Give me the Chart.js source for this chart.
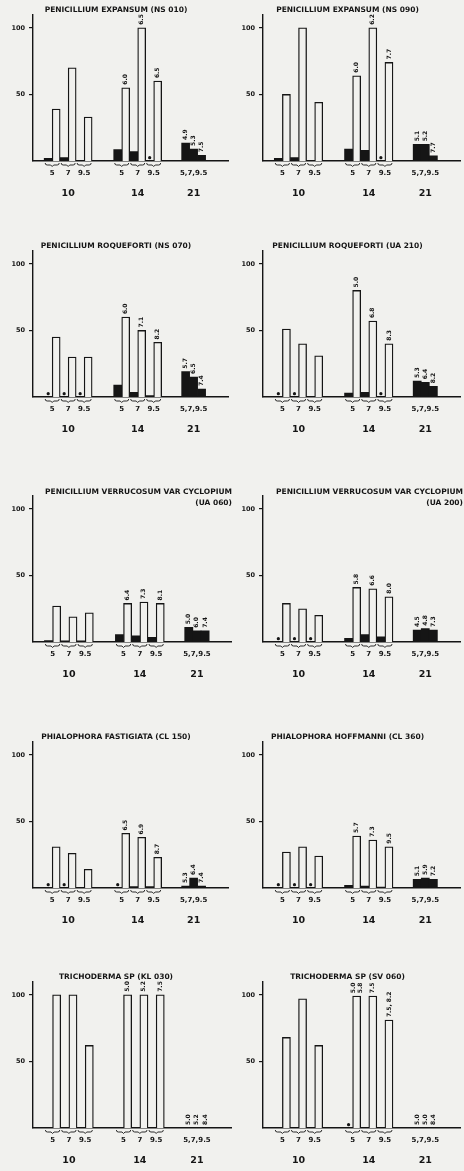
<!DOCTYPE html>
<html>
<head>
<meta charset="utf-8">
<script src="https://cdn.jsdelivr.net/npm/chart.js@4.4.1/dist/chart.umd.min.js"></script>
<style>
  body { margin: 0; background: #f1f1ee; width: 464px; height: 1171px; position: relative; overflow: hidden; }
  canvas { position: absolute; }
</style>
</head>
<body>
<script>
// ---- data (one entry per panel, reading order left->right, top->bottom) ----
const titles = [
  'PENICILLIUM EXPANSUM (NS 010)', 'PENICILLIUM EXPANSUM (NS 090)',
  'PENICILLIUM ROQUEFORTI (NS 070)', 'PENICILLIUM ROQUEFORTI (UA 210)',
  'PENICILLIUM VERRUCOSUM VAR CYCLOPIUM', 'PENICILLIUM VERRUCOSUM VAR CYCLOPIUM',
  'PHIALOPHORA FASTIGIATA (CL 150)', 'PHIALOPHORA HOFFMANNI (CL 360)',
  'TRICHODERMA SP (KL 030)', 'TRICHODERMA SP (SV 060)'
];
const titleTails = ['', '', '', '', '(UA 060)', '(UA 200)', '', '', '', ''];

const phTicks = ['5', '7', '9.5', '5', '7', '9.5', '5,7,9.5'];
const dayTicks = ['10', '14', '21'];
const yTicks = [50, 100];

// white bars, day 10 and day 14, pH 5 / 7 / 9.5
const white10 = [
  [39, 70, 33], [50, 100, 44], [45, 30, 30], [51, 40, 31], [27, 19, 22],
  [29, 25, 20], [31, 26, 14], [27, 31, 24], [100, 100, 62], [68, 97, 62]
];
const white14 = [
  [55, 100, 60], [64, 100, 74], [60, 50, 41], [80, 57, 40], [29, 30, 29],
  [41, 40, 34], [41, 38, 23], [39, 36, 31], [100, 100, 100], [99, 99, 81]
];
// black bars, day 10 / 14 / 21
const black10 = [
  [2, 2.5, 0], [2, 2.5, 0], [0, 0, 0], [0, 0, 0], [1, 0.8, 0.8],
  [0, 0, 0], [0, 0, 0], [0, 0, 0], [0, 0, 0], [0, 0, 0]
];
const black14 = [
  [8.5, 7, 0], [9, 8, 0], [9, 3.5, 1], [3, 3.5, 0], [5.5, 4.7, 3.5],
  [2.8, 5.5, 3.8], [0, 1, 1], [2, 1.5, 0.6], [0, 0, 0], [0, 0, 0]
];
const black21 = [
  [13.5, 9, 4.3], [12.5, 12.5, 3.8], [19, 15, 6], [12, 11, 8], [11, 8.4, 8.4],
  [9, 10, 9], [1.5, 7.5, 1.5], [6.5, 7.5, 6.5], [0, 0, 0], [0, 0, 0]
];
// asterisks marking the black slots
const star10 = [
  [0, 0, 0], [0, 0, 0], [1, 1, 1], [1, 1, 0], [0, 0, 0],
  [1, 1, 1], [1, 1, 0], [1, 1, 1], [0, 0, 0], [0, 0, 0]
];
const star14 = [
  [0, 0, 1], [0, 0, 1], [0, 0, 0], [0, 0, 1], [0, 0, 0],
  [0, 0, 0], [1, 0, 0], [0, 0, 0], [0, 0, 0], [1, 0, 0]
];
// final pH written above the bars
const label14 = [
  ['6.0', '6.5', '6.5'], ['6.0', '6.2', '7.7'], ['6.0', '7.1', '8.2'], ['5.0', '6.8', '8.3'],
  ['6.4', '7.3', '8.1'], ['5.8', '6.6', '8.0'], ['6.5', '6.9', '8.7'], ['5.7', '7.3', '9.5'],
  ['5.0', '5.2', '7.5'], [['5.0', '5.8'], '7.5', '7.5, 8.2']
];
const label21 = [
  ['4.9', '5.3', '7.5'], ['5.1', '5.2', '7.7'], ['5.7', '6.5', '7.4'], ['5.3', '6.4', '8.2'],
  ['5.0', '6.0', '7.4'], ['4.5', '4.8', '7.3'], ['5.3', '6.4', '7.4'], ['5.1', '5.9', '7.2'],
  ['5.0', '5.2', '8.4'], ['5.0', '5.0', '8.4']
];

// ---- layout ----
const ink = '#151515';
const paper = '#f1f1ee';
const FONT = "'DejaVu Sans', 'Liberation Sans', sans-serif";
const G10 = 1.4, G14 = 10.1, G21 = 18.6;   // slot where each day group starts
const X_MAX = 24.4, Y_MAX = 110;
const rowZero = [160, 396, 642, 887, 1127];
const colLeft = [0, 232], colYW = [33, 31], colPadR = [0, 1];
const PLOT_H = 146, X_H = 20, X2_H = 22, PAD_B = 2;
const TITLE_SIZE = 7.5;

const phPos = [G10 + 1, G10 + 3, G10 + 5, G14 + 1, G14 + 3, G14 + 5, G21 + 1.5];
const dayPos = [G10 + 3, G14 + 3, G21 + 1.5];

Chart.defaults.font.family = FONT;
Chart.defaults.color = ink;

const annot = {
  id: 'annot',
  afterDatasetsDraw(chart, args, opts) {
    const p = opts.panel;
    const ctx = chart.ctx;
    const x = chart.scales.x, y = chart.scales.y;
    const base = y.getPixelForValue(0);
    ctx.save();
    ctx.strokeStyle = ink;
    ctx.fillStyle = ink;
    ctx.lineWidth = 0.9;
    // braces under each pH pair
    [G10, G14].forEach(g => {
      for (let i = 0; i < 3; i++) {
        const l = x.getPixelForValue(g + 2 * i) + 1;
        const r = x.getPixelForValue(g + 2 * i + 2) - 1;
        const m = (l + r) / 2;
        ctx.beginPath();
        ctx.moveTo(l, base + 2);
        ctx.quadraticCurveTo(l, base + 4, l + 2, base + 4);
        ctx.lineTo(m - 1.5, base + 4);
        ctx.lineTo(m, base + 5.5);
        ctx.lineTo(m + 1.5, base + 4);
        ctx.lineTo(r - 2, base + 4);
        ctx.quadraticCurveTo(r, base + 4, r, base + 2);
        ctx.stroke();
      }
    });
    // rotated pH values on top of the bars
    ctx.font = 'bold 6px ' + FONT;
    ctx.textBaseline = 'middle';
    ctx.textAlign = 'left';
    const put = (txt, cx, top) => {
      const list = Array.isArray(txt) ? txt : [txt];
      list.forEach((t, k) => {
        const dx = (k - (list.length - 1) / 2) * 7;
        ctx.save();
        ctx.translate(cx + dx, top - 3);
        ctx.rotate(-Math.PI / 2);
        ctx.fillText(t, 0, 0);
        ctx.restore();
      });
    };
    label14[p].forEach((t, i) => put(t, x.getPixelForValue(G14 + 2 * i + 1.5), y.getPixelForValue(white14[p][i])));
    label21[p].forEach((t, i) => put(t, x.getPixelForValue(G21 + i + 0.5), y.getPixelForValue(black21[p][i])));
    ctx.restore();
  }
};

titles.forEach((title, p) => {
  const col = p % 2, row = Math.floor(p / 2);
  const tail = titleTails[p];
  const lh = tail ? 1.5 : 1;
  const lineH = TITLE_SIZE * lh;
  // two-line titles: second line hangs into the plot area, like the original
  const titlePad = tail
    ? { top: 4, bottom: (4 + lineH / 2 + 4) - (2 * lineH + 4) }
    : { top: 4, bottom: 1 };
  const titleH = (tail ? 2 : 1) * lineH + titlePad.top + titlePad.bottom;
  const zero = rowZero[row];
  const top = zero - PLOT_H - titleH;
  const height = Math.round(zero + X_H + X2_H + PAD_B - top);

  const canvas = document.createElement('canvas');
  canvas.width = 232;
  canvas.height = height;
  canvas.style.left = colLeft[col] + 'px';
  canvas.style.top = top + 'px';
  document.body.appendChild(canvas);

  const whitePts = [
    ...white10[p].map((v, i) => ({ x: G10 + 2 * i + 1.5, y: v })),
    ...white14[p].map((v, i) => ({ x: G14 + 2 * i + 1.5, y: v }))
  ];
  const blackPts = [
    ...black10[p].map((v, i) => ({ x: G10 + 2 * i + 0.5, y: v })),
    ...black14[p].map((v, i) => ({ x: G14 + 2 * i + 0.5, y: v })),
    ...black21[p].map((v, i) => ({ x: G21 + i + 0.5, y: v }))
  ];
  const starPts = [
    ...star10[p].map((f, i) => f ? { x: G10 + 2 * i + 0.5, y: 2.5 } : null),
    ...star14[p].map((f, i) => f ? { x: G14 + 2 * i + 0.5, y: 2.5 } : null)
  ].filter(Boolean);

  new Chart(canvas, {
    type: 'bar',
    data: {
      datasets: [
        {
          data: whitePts, xAxisID: 'x', yAxisID: 'y',
          backgroundColor: paper, borderColor: ink, borderWidth: 1.3,
          grouped: false, barPercentage: 1, categoryPercentage: 1
        },
        {
          data: blackPts, xAxisID: 'x', yAxisID: 'y',
          backgroundColor: ink, borderWidth: 0,
          grouped: false, barPercentage: 1, categoryPercentage: 1
        },
        {
          type: 'scatter', data: starPts, xAxisID: 'x', yAxisID: 'y',
          pointStyle: 'circle', pointRadius: 1.6, backgroundColor: ink, borderWidth: 0
        }
      ]
    },
    options: {
      responsive: false,
      animation: false,
      devicePixelRatio: 1,
      layout: { padding: { left: 0, right: colPadR[col], top: 0, bottom: PAD_B } },
      plugins: {
        legend: { display: false },
        tooltip: { enabled: false },
        title: {
          display: true,
          text: tail ? [title, tail] : title,
          align: tail ? 'end' : 'center',
          color: ink,
          font: { size: TITLE_SIZE, weight: 'bold', lineHeight: lh },
          padding: titlePad
        },
        annot: { panel: p }
      },
      scales: {
        x: {
          type: 'linear', position: 'bottom', weight: 0,
          min: 0, max: X_MAX, offset: false,
          grid: { display: false, drawTicks: false },
          border: { display: true, color: ink, width: 1.4 },
          ticks: {
            autoSkip: false, maxRotation: 0, padding: 9, color: ink,
            font: { size: 7, weight: 'bold', lineHeight: 1 },
            callback: (v, i) => phTicks[i]
          },
          afterBuildTicks: s => { s.ticks = phPos.map(v => ({ value: v })); },
          afterFit: s => { s.height = X_H; }
        },
        x2: {
          type: 'linear', position: 'bottom', weight: 1,
          min: 0, max: X_MAX, offset: false,
          grid: { display: false, drawTicks: false },
          border: { display: false },
          ticks: {
            autoSkip: false, maxRotation: 0, padding: 8, color: ink,
            font: { size: 9.5, weight: 'bold', lineHeight: 1 },
            callback: (v, i) => dayTicks[i]
          },
          afterBuildTicks: s => { s.ticks = dayPos.map(v => ({ value: v })); },
          afterFit: s => { s.height = X2_H; }
        },
        y: {
          type: 'linear', min: 0, max: Y_MAX,
          grid: { drawOnChartArea: false, drawTicks: true, tickLength: 4, color: ink, lineWidth: 1.2 },
          border: { display: true, color: ink, width: 1.4 },
          ticks: {
            padding: 4, color: ink,
            font: { size: 6.5, weight: 'bold', lineHeight: 1 }
          },
          afterBuildTicks: s => { s.ticks = yTicks.map(v => ({ value: v })); },
          afterFit: s => { s.width = colYW[col]; }
        }
      }
    },
    plugins: [annot]
  });
});
</script>
</body>
</html>
